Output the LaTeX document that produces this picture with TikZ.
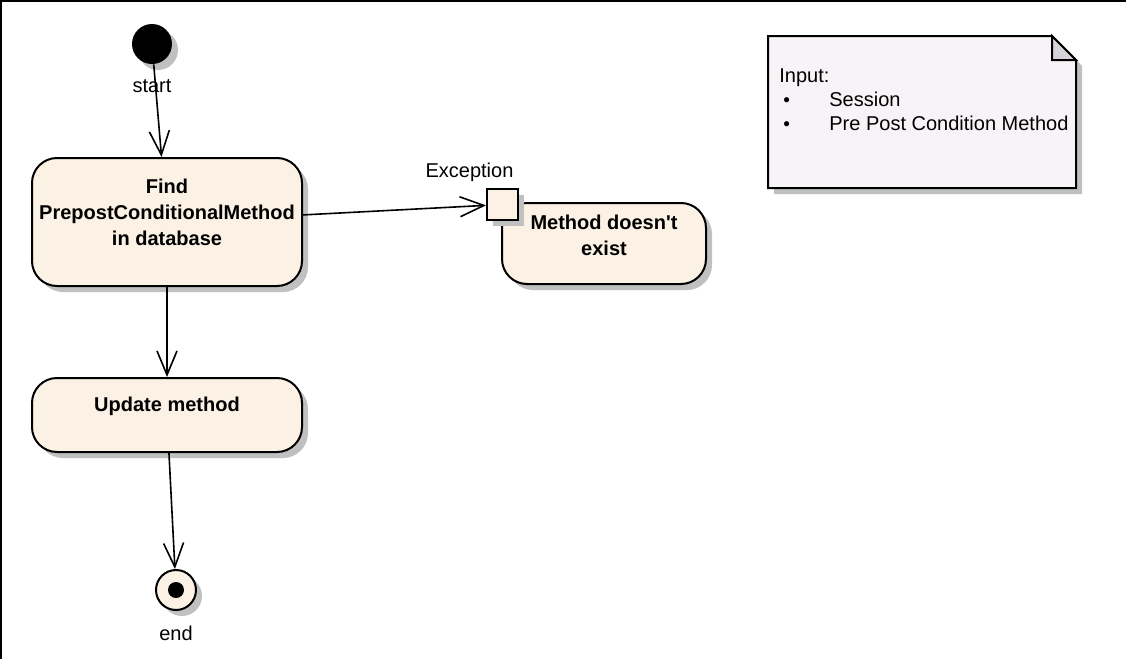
\documentclass[tikz,border=0pt]{standalone}
\usepackage{fontspec}
\setmainfont{Liberation Sans}
\usetikzlibrary{positioning,shapes,arrows.meta,shadows}
\definecolor{statecream}{RGB}{251,241,228}
\definecolor{notelilac}{RGB}{247,243,247}
\definecolor{foldgray}{RGB}{214,210,218}
\definecolor{shadowgray}{RGB}{192,192,192}
\newcommand{\notebullet}{\hspace*{2pt}\makebox[23pt][l]{\fontsize{9.5}{9.5}\selectfont\raisebox{0.3pt}{•}}}

\begin{document}
\begin{tikzpicture}[x=0.5pt, y=-0.5pt, font=\fontsize{10}{13}\selectfont]
    \tikzstyle{shade} = [drop shadow={shadow xshift=3pt, shadow yshift=-3pt, fill=shadowgray, opacity=1}]
    \tikzstyle{state} = [rectangle, rounded corners=12.5pt, draw, line width=1pt, fill=statecream, shade]
    \tikzstyle{boldtext} = [font=\fontsize{10}{13}\selectfont\bfseries, align=center]
    \tikzstyle{initial} = [circle, fill=black, minimum size=20pt, inner sep=0pt, shade]
    \tikzstyle{final} = [circle, draw, line width=1pt, fill=statecream, minimum size=20pt, inner sep=0pt, shade,
        path picture={\fill [black] (path picture bounding box.center) circle (4pt);}]
    \tikzstyle{pinbox} = [rectangle, draw, line width=1pt, fill=statecream, minimum size=15.5pt, inner sep=0pt, shade]
    \tikzstyle{flow} = [-{Straight Barb[length=12pt,width=10pt]}, line width=0.8pt]

    \useasboundingbox (0,0) rectangle (1126,659);
    \draw [line width=1pt] (1,659) -- (1,1) -- (1126,1);

    % states
    \node [initial, label={[label distance=4pt]below:start}] (start) at (152,44) {};
    \node [state, minimum width=135pt, minimum height=64pt,
        label={[boldtext, yshift=5pt]center:{Find\\PrepostConditionalMethod\\in database}}] (find) at (167,222) {};
    \node [state, minimum width=135pt, minimum height=37pt,
        label={[boldtext, yshift=4.5pt]center:Update method}] (update) at (167,415) {};
    \node [state, minimum width=102pt, minimum height=40.5pt,
        label={[boldtext, yshift=4.25pt]center:{Method doesn\textquotesingle t\\exist}}] (nomethod) at (604,243.5) {};
    \node [pinbox, label={[label distance=-0.5pt, xshift=-16.5pt]above:Exception}] (exception) at (502.5,204.5) {};
    \node [final, label={[label distance=4pt]below:end}] (finish) at (176,590) {};

    \draw [flow] (start) -- (find);
    \draw [flow] (find) -- (exception);
    \draw [flow] (find) -- (update);
    \draw [flow] (update) -- (finish);

    % note
    \fill [shadowgray] (774,42) -- (1058,42) -- (1082,66) -- (1082,194) -- (774,194) -- cycle;
    \draw [line width=1pt, fill=notelilac] (768,36) -- (1052,36) -- (1076,60) -- (1076,188) -- (768,188) -- cycle;
    \draw [line width=1pt, fill=foldgray] (1052,36) -- (1052,60) -- (1076,60) -- cycle;
    \node [anchor=west, align=left, inner sep=0pt, font=\fontsize{10}{12}\selectfont] (input) at (779,100)
        {Input:\\\notebullet Session\\\notebullet Pre Post Condition Method};
\end{tikzpicture}
\end{document}
